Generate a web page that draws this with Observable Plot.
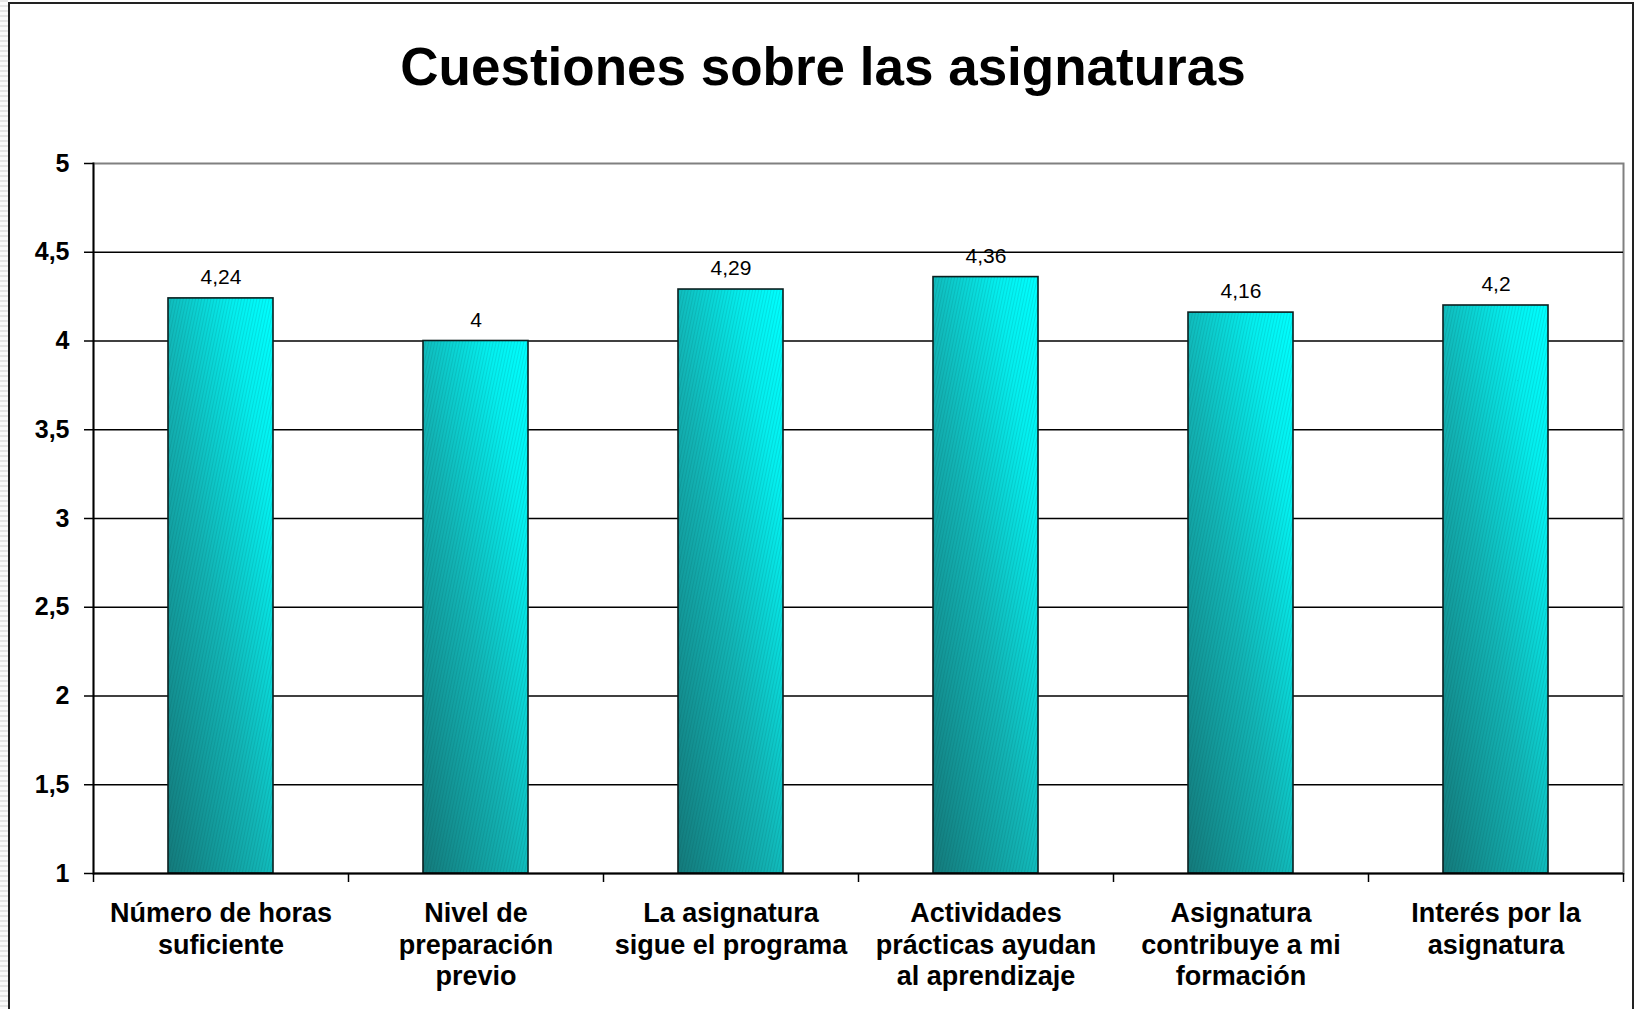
<!DOCTYPE html>
<html>
<head>
<meta charset="utf-8">
<script src="https://cdn.jsdelivr.net/npm/d3@7"></script>
<script src="https://cdn.jsdelivr.net/npm/@observablehq/plot@0.6"></script>
<style>
  html, body { margin: 0; padding: 0; background: #fff; overflow: hidden; }
  #page { position: relative; width: 1640px; height: 1009px; overflow: hidden; background: #fff;
          font-family: "Liberation Sans", Arial, sans-serif; }
  #strip { position: absolute; left: 0; top: 0; width: 8px; height: 1009px;
           background: repeating-linear-gradient(to bottom, #e4e4e4 0 2px, #fafafa 2px 5px); }
  #border { position: absolute; left: 8px; top: 2px; width: 1626px; height: 1100px;
            border: 2px solid #222; box-sizing: border-box; }
  #title { position: absolute; left: 9px; width: 1628px; top: 40px; text-align: center;
           font-size: 53px; line-height: 53px; font-weight: bold; color: #000; }
  #chart { position: absolute; left: 0; top: 120px; }
</style>
</head>
<body>
<div id="page">
  <div id="strip"></div>
  <div id="border"></div>
  <div id="title">Cuestiones sobre las asignaturas</div>
  <div id="chart"></div>
</div>
<script>
const categories = [
  "Número de horas\nsuficiente",
  "Nivel de\npreparación\nprevio",
  "La asignatura\nsigue el programa",
  "Actividades\nprácticas ayudan\nal aprendizaje",
  "Asignatura\ncontribuye a mi\nformación",
  "Interés por la\nasignatura"
];
const values = [4.24, 4, 4.29, 4.36, 4.16, 4.2];
const yTicks = [1, 1.5, 2, 2.5, 3, 3.5, 4, 4.5, 5];

const data = categories.map((c, i) => ({category: c, value: values[i]}));
const fmt = (v) => String(v).replace(".", ",");

const W = 1640, H = 889;
const mL = 93, mR = 17, mT = 43, mB = 136;
const step = (W - mL - mR) / categories.length;
const plotH = H - mT - mB;

const plot = Plot.plot({
  width: W,
  height: H,
  marginLeft: mL,
  marginRight: mR,
  marginTop: mT,
  marginBottom: mB,
  style: {fontFamily: "'Liberation Sans', Arial, sans-serif", background: "transparent", color: "#000", overflow: "visible"},
  x: {domain: categories, paddingInner: 0.59, paddingOuter: 0.295, axis: null},
  y: {domain: [yTicks[0], yTicks[yTicks.length - 1]], axis: null},
  marks: [
    Plot.frame({stroke: "#808080", strokeWidth: 2}),
    Plot.gridY(yTicks.slice(1, -1), {stroke: "#000", strokeOpacity: 1, strokeWidth: 1.3}),
    Plot.barY(data, {x: "category", y1: yTicks[0], y2: "value", fill: "url(#barGrad)", stroke: "#0a1f1f", strokeWidth: 1.6}),
    Plot.barY(data, {x: "category", y1: yTicks[0], y2: "value", fill: "url(#barHatch)"}),
    Plot.ruleY([yTicks[0]], {stroke: "#000", strokeWidth: 1.8}),
    Plot.frame({anchor: "left", stroke: "#000", strokeWidth: 1.8}),
    Plot.axisY({ticks: yTicks, tickFormat: fmt, tickSize: 9, tickPadding: 15, fontSize: 25, fontWeight: "bold", label: null, strokeWidth: 1.5}),
    Plot.axisX({tickSize: 0, tickPadding: 26, fontSize: 27, fontWeight: "bold", lineHeight: 1.17, label: null}),
    Plot.ruleX(categories, {x: (d) => d, dx: -step / 2, insetTop: plotH, insetBottom: -9, stroke: "#000", strokeWidth: 1.5}),
    Plot.ruleX(categories.slice(-1), {x: (d) => d, dx: step / 2, insetTop: plotH, insetBottom: -9, stroke: "#000", strokeWidth: 1.5}),
    Plot.text(data, {x: "category", y: "value", text: (d) => fmt(d.value), dy: -21, fontSize: 21, fill: "#000", lineAnchor: "middle"})
  ]
});

// gradient and hatch definitions used by the bars
const defs = d3.select(plot).insert("defs", ":first-child");
const grad = defs.append("linearGradient").attr("id", "barGrad")
  .attr("x1", 0).attr("y1", 1).attr("x2", 1).attr("y2", 0);
grad.append("stop").attr("offset", "0%").attr("stop-color", "#147a7b");
grad.append("stop").attr("offset", "45%").attr("stop-color", "#12b4b5");
grad.append("stop").attr("offset", "80%").attr("stop-color", "#04eeee");
grad.append("stop").attr("offset", "100%").attr("stop-color", "#00ffff");
const pat = defs.append("pattern").attr("id", "barHatch").attr("patternUnits", "userSpaceOnUse")
  .attr("width", 3).attr("height", 8).attr("patternTransform", "rotate(12)");
pat.append("rect").attr("x", 0).attr("y", 0).attr("width", 1).attr("height", 8).attr("fill", "rgba(0,60,60,0.12)");

document.getElementById("chart").appendChild(plot);
</script>
</body>
</html>
